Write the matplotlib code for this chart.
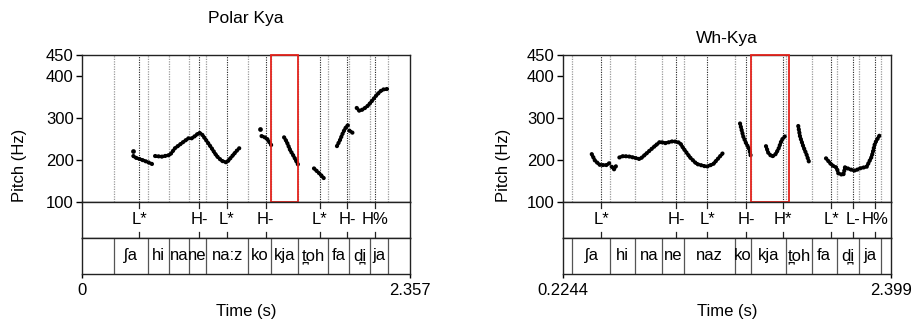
import matplotlib
matplotlib.use("Agg")
import matplotlib.pyplot as plt
from matplotlib.patches import Rectangle

plt.rcParams['font.family'] = ['Liberation Sans', 'DejaVu Sans']

# ---------------- data ----------------
LEFT_TITLE = "Polar Kya"
RIGHT_TITLE = "Wh-Kya"
PITCH_TICKS = [100, 200, 300, 400, 450]

LEFT_TIME_RANGE = [0.0, 2.357]
LEFT_TIME_LABELS = ["0", "2.357"]
LEFT_SYL_BOUNDS = [0.232, 0.472, 0.625, 0.769, 0.891, 1.195, 1.358, 1.554,
                   1.770, 1.919, 2.070, 2.197]
LEFT_SYL_LABELS = ["", "ʃa", "hi", "na", "ne", "na:z", "ko", "kja", "t̪oh",
                   "fa", "d̪i", "ja", ""]
LEFT_TONE_TIMES = [0.412, 0.843, 1.040, 1.320, 1.710, 1.906, 2.105]
LEFT_TONE_LABELS = ["L*", "H-", "L*", "H-", "L*", "H-", "H%"]
LEFT_HIGHLIGHT = [1.358, 1.552]

LEFT_PITCH_T = [
    [0.364],
    [0.369, 0.381, 0.417, 0.465, 0.494, 0.503, 0.512],
    [0.525, 0.573, 0.632, 0.668, 0.716, 0.764, 0.788, 0.812, 0.841, 0.860,
     0.891, 0.932, 0.968, 1.004, 1.040, 1.076, 1.112, 1.130],
    [1.279],
    [1.290, 1.327, 1.351, 1.370],
    [1.452, 1.471, 1.495, 1.523, 1.554],
    [1.667, 1.710, 1.751],
    [1.832, 1.854, 1.878, 1.902, 1.914],
    [1.921, 1.950],
    [1.974, 1.993, 2.021, 2.057, 2.093, 2.118, 2.154, 2.177, 2.208],
]
LEFT_PITCH_HZ = [
    [222],
    [209.5, 206, 202, 196, 192, 190.5, 196],
    [209.5, 208, 212, 228, 240, 251.6, 251.6, 257, 265, 262,
     247.6, 228, 209.5, 198, 194, 208, 222, 228],
    [273.5],
    [257, 252, 240, 230],
    [254, 243.6, 224, 208, 188],
    [180, 166.7, 152],
    [233, 247.6, 267, 281, 283],
    [270, 263.6],
    [324, 317, 320.7, 330, 344.5, 355, 366.7, 369, 369],
]

RIGHT_TIME_RANGE = [0.2244, 2.399]
RIGHT_TIME_LABELS = ["0.2244", "2.399"]
RIGHT_SYL_BOUNDS = [0.286, 0.536, 0.705, 0.884, 1.027, 1.362, 1.471, 1.706,
                    1.872, 2.039, 2.189, 2.333]
RIGHT_SYL_LABELS = ["", "ʃa", "hi", "na", "ne", "naz", "ko", "kja", "t̪oh",
                    "fa", "d̪i", "ja", ""]
RIGHT_TONE_TIMES = [0.478, 0.974, 1.182, 1.438, 1.685, 2.003, 2.150, 2.295]
RIGHT_TONE_LABELS = ["L*", "H-", "L*", "H-", "H*", "L*", "L-", "H%"]
RIGHT_HIGHLIGHT = [1.471, 1.720]

RIGHT_PITCH_T = [
    [0.415, 0.437, 0.470, 0.514, 0.536],
    [0.547, 0.563, 0.580],
    [0.598, 0.624, 0.669, 0.713, 0.735, 0.779, 0.823, 0.868, 0.901, 0.956,
     1.000, 1.022, 1.067, 1.111, 1.177, 1.221, 1.254, 1.283],
    [1.398, 1.409, 1.420, 1.438, 1.460, 1.469],
    [1.570, 1.585, 1.608, 1.630, 1.652, 1.674, 1.703],
    [1.784, 1.796, 1.818, 1.840, 1.857],
    [1.968, 2.006, 2.039, 2.050, 2.083, 2.094, 2.127, 2.160, 2.193, 2.238,
     2.271, 2.293, 2.331],
]
RIGHT_PITCH_HZ = [
    [214, 198, 188, 188, 193.6],
    [184, 177.8, 188],
    [206, 209.5, 208, 204, 202, 216, 230, 243.6, 240, 245,
     241, 228, 206, 190.5, 184, 190.5, 204, 216],
    [287, 271, 255.5, 240, 225.5, 209.5],
    [233, 217.4, 208, 212, 225.5, 247.6, 259.5],
    [281, 255.5, 231.7, 212, 193.6],
    [204, 188, 181.7, 168, 164, 182.6, 177.8, 174.5, 180, 184,
     208, 240, 263.6],
]

# ---------------- layout ----------------
W, H = 914, 323
fig = plt.figure(figsize=(W / 100, H / 100), dpi=100)

PITCH_TOP, PITCH_BOT = 55, 202
TONE_BOT = 238
SYL_BOT = 273.5
FS = 12


def fx(px):
    return px / W


def fy(py):
    return 1 - py / H


def panel(x0, x1, title, title_y, ylab_x, trange, tlabels, bounds, syls,
          tones, tlabs, highlight, pt, phz):
    w = fx(x1) - fx(x0)
    axp = fig.add_axes([fx(x0), fy(PITCH_BOT), w, fy(PITCH_TOP) - fy(PITCH_BOT)])
    axt = fig.add_axes([fx(x0), fy(TONE_BOT), w, fy(PITCH_BOT) - fy(TONE_BOT)])
    axs = fig.add_axes([fx(x0), fy(SYL_BOT), w, fy(TONE_BOT) - fy(SYL_BOT)])
    for ax in (axp, axt, axs):
        ax.set_xlim(trange)
        for s in ax.spines.values():
            s.set_linewidth(1.0)
            s.set_color('#222222')
    # pitch
    axp.set_ylim(100, 450)
    axp.set_yticks(PITCH_TICKS)
    axp.set_yticklabels([str(v) for v in PITCH_TICKS], fontsize=FS)
    axp.tick_params(axis='y', direction='out', length=4, width=1.0, pad=2)
    axp.set_xticks([])
    for b in bounds:
        axp.axvline(b, color='#9a9a9a', lw=0.9, ls=(0, (1, 1)))
    for t in tones:
        axp.axvline(t, color='#222222', lw=0.8, ls=(0, (1, 1.2)))
    for ts, hs in zip(pt, phz):
        if len(ts) == 1:
            axp.plot(ts, hs, 'o', color='black', ms=3.4, mew=0)
        else:
            axp.plot(ts, hs, color='black', lw=3.0,
                     ls=(0, (0.1, 0.7)), dash_capstyle='round',
                     solid_capstyle='round')
    axp.add_patch(Rectangle((highlight[0], 100), highlight[1] - highlight[0],
                            350, fill=False, edgecolor='#e3231c', lw=1.3,
                            zorder=5, clip_on=False))
    axp.set_ylabel("Pitch (Hz)", fontsize=FS)
    axp.yaxis.set_label_coords((ylab_x - x0) / (x1 - x0), 0.252)
    # tone tier
    axt.set_ylim(0, 1)
    axt.set_xticks([])
    axt.set_yticks([])
    for t, lab in zip(tones, tlabs):
        axt.plot([t, t], [1, 0.83], color='#222222', lw=0.9)
        axt.plot([t, t], [0, 0.17], color='#222222', lw=0.9)
        axt.text(t, 0.5, lab, ha='center', va='center', fontsize=FS,
                 clip_on=False)
    # syllable tier
    axs.set_ylim(0, 1)
    axs.set_yticks([])
    edges = [trange[0]] + list(bounds) + [trange[1]]
    for b in bounds:
        axs.axvline(b, color='#555555', lw=0.9)
    for i, lab in enumerate(syls):
        if lab:
            axs.text((edges[i] + edges[i + 1]) / 2, 0.5, lab, ha='center',
                     va='center', fontsize=FS)
    axs.set_xticks(trange)
    axs.set_xticklabels(tlabels, fontsize=FS)
    axs.tick_params(axis='x', direction='out', length=3, width=1.0, pad=4)
    axs.set_xlabel("Time (s)", fontsize=FS, labelpad=4)
    fig.text((fx(x0) + fx(x1)) / 2, fy(title_y), title, ha='center',
             va='center', fontsize=12.5)


panel(82, 410, LEFT_TITLE, 19, 27, LEFT_TIME_RANGE, LEFT_TIME_LABELS,
      LEFT_SYL_BOUNDS, LEFT_SYL_LABELS, LEFT_TONE_TIMES, LEFT_TONE_LABELS,
      LEFT_HIGHLIGHT, LEFT_PITCH_T, LEFT_PITCH_HZ)
panel(563, 891, RIGHT_TITLE, 39, 511, RIGHT_TIME_RANGE, RIGHT_TIME_LABELS,
      RIGHT_SYL_BOUNDS, RIGHT_SYL_LABELS, RIGHT_TONE_TIMES, RIGHT_TONE_LABELS,
      RIGHT_HIGHLIGHT, RIGHT_PITCH_T, RIGHT_PITCH_HZ)

fig.savefig("out.png", dpi=100)
